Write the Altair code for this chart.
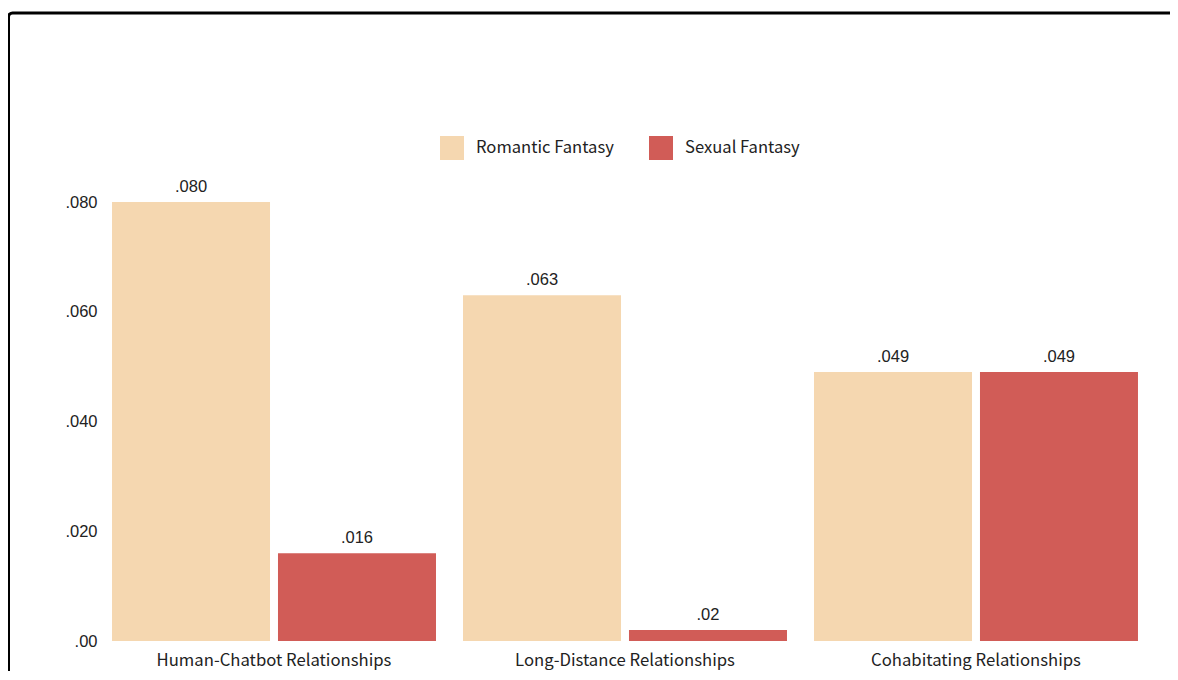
import altair as alt
import pandas as pd

categories = ["Human-Chatbot Relationships", "Long-Distance Relationships", "Cohabitating Relationships"]
series = ["Romantic Fantasy", "Sexual Fantasy"]
romantic = [0.080, 0.063, 0.049]
sexual = [0.016, 0.002, 0.049]
romantic_labels = [".080", ".063", ".049"]
sexual_labels = [".016", ".02", ".049"]
tick_values = [0.0, 0.02, 0.04, 0.06, 0.08]
tick_labels = [".00", ".020", ".040", ".060", ".080"]
colors = ["#F5D7B0", "#D15C57"]

rows = []
for i, c in enumerate(categories):
    rows.append({"category": c, "series": series[0], "value": romantic[i], "label": romantic_labels[i]})
    rows.append({"category": c, "series": series[1], "value": sexual[i], "label": sexual_labels[i]})
df = pd.DataFrame(rows)

label_expr = " : ".join(
    [f"abs(datum.value - {v}) < 1e-9 ? '{l}'" for v, l in zip(tick_values, tick_labels)]
) + " : ''"

xenc = alt.X(
    "category:N",
    sort=categories,
    scale=alt.Scale(paddingInner=0.077, paddingOuter=0.02),
    axis=alt.Axis(
        title=None, labelAngle=0, domain=False, ticks=False, labelPadding=11, labelLimit=0,
        labelFont="Noto Sans CJK KR", labelFontSize=16.7, labelColor="#222222",
    ),
)
xoff = alt.XOffset("series:N", sort=series, scale=alt.Scale(paddingInner=0.048, paddingOuter=0))
yenc = alt.Y(
    "value:Q",
    scale=alt.Scale(domain=[0, 0.08], nice=False),
    axis=alt.Axis(
        title=None, values=tick_values, labelExpr=label_expr, grid=False, domain=False,
        ticks=False, labelPadding=8, labelFont="Liberation Sans", labelFontSize=16.5,
        labelColor="#222222",
    ),
)

base = alt.Chart(df)

bars = base.mark_bar().encode(
    x=xenc,
    xOffset=xoff,
    y=yenc,
    color=alt.Color(
        "series:N",
        sort=series,
        scale=alt.Scale(domain=series, range=colors),
        legend=alt.Legend(
            title=None, orient="none", direction="horizontal", legendX=335, legendY=-66,
            symbolType="square", symbolSize=576, symbolStrokeWidth=0, symbolOpacity=1,
            labelFont="Noto Sans CJK KR", labelFontSize=16.6, labelColor="#222222",
            labelOffset=12, columnPadding=35,
        ),
    ),
)

texts = base.mark_text(
    baseline="bottom", dy=-7, font="Liberation Sans", fontSize=16.5, color="#222222"
).encode(
    x=alt.X("category:N", sort=categories),
    xOffset=alt.XOffset("series:N", sort=series),
    y="value:Q",
    text="label:N",
)

frame = alt.Chart(alt.Data(values=[{}])).mark_rect(
    filled=False, stroke="black", strokeWidth=3, cornerRadius=4, clip=False
).encode(
    x=alt.value(-96.5), x2=alt.value(1100), y=alt.value(-189), y2=alt.value(520)
)

chart = alt.layer(bars, texts, frame).properties(
    width=1040, height=439,
    padding={"left": 97, "top": 194, "right": 25, "bottom": 30},
    autosize=alt.AutoSizeParams(type="none"),
).configure_view(stroke=None).configure_legend(symbolStrokeWidth=0)

chart.save("out.html", embed_options={"renderer": "svg", "actions": False})
